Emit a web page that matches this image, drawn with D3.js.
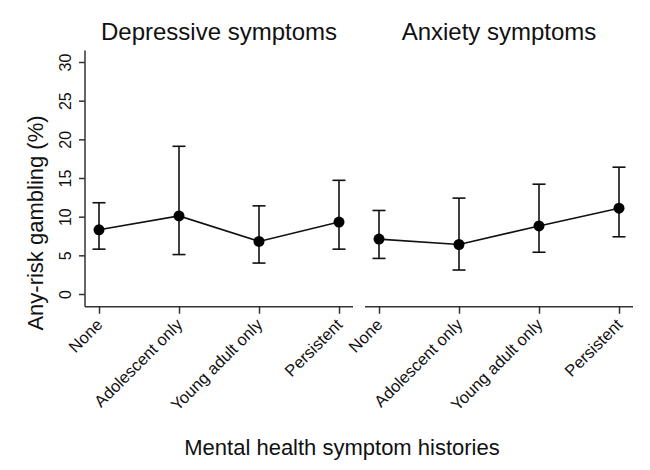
<!DOCTYPE html>
<html>
<head>
<meta charset="utf-8">
<script src="https://cdn.jsdelivr.net/npm/d3@7"></script>
<style>
  html, body { margin: 0; padding: 0; background: #fff; }
  svg { display: block; font-family: "Liberation Sans", Arial, sans-serif; }
</style>
</head>
<body>
<svg id="chart" width="650" height="470"></svg>
<script>
// ---- data ----
const categories = ["None", "Adolescent only", "Young adult only", "Persistent"];
const panelTitles = ["Depressive symptoms", "Anxiety symptoms"];
const depEstimate = [8.3, 10.1, 6.8, 9.3];
const depLower    = [5.8, 5.1, 4.0, 5.8];
const depUpper    = [11.8, 19.1, 11.4, 14.7];
const anxEstimate = [7.1, 6.4, 8.8, 11.1];
const anxLower    = [4.6, 3.1, 5.4, 7.4];
const anxUpper    = [10.8, 12.4, 14.2, 16.4];
const yTicks = [0, 5, 10, 15, 20, 25, 30];
const yLabel = "Any-risk gambling (%)";
const xLabel = "Mental health symptom histories";

const panels = [
  { title: panelTitles[0], est: depEstimate, lo: depLower, hi: depUpper, x0: 85, x1: 353, yAxis: true },
  { title: panelTitles[1], est: anxEstimate, lo: anxLower, hi: anxUpper, x0: 365, x1: 633, yAxis: false }
];

const svg = d3.select("#chart");
const y = d3.scaleLinear().domain([0, 30]).range([294, 62]);
const yMin = -1.65, yMax = 31.5;
const ink = "#111";

panels.forEach(p => {
  const x = d3.scalePoint().domain(categories).range([p.x0, p.x1]).padding(0.175);
  const g = svg.append("g");

  // title
  g.append("text")
    .attr("x", (p.x0 + p.x1) / 2).attr("y", 40)
    .attr("text-anchor", "middle")
    .attr("font-size", 24).attr("fill", ink)
    .text(p.title);

  // x axis
  const xAxis = d3.axisBottom(x).tickSize(7).tickSizeOuter(0).tickFormat("");
  const xg = g.append("g").attr("transform", `translate(0,${y(yMin)})`).call(xAxis);
  xg.select(".domain").attr("stroke", "#333").attr("stroke-width", 1.5)
    .attr("d", `M${p.x0},0H${p.x1}`);
  xg.selectAll(".tick line").attr("stroke", "#333").attr("stroke-width", 1.5);
  xg.selectAll(".tick").append("text")
    .attr("transform", "translate(4,19) rotate(-45)")
    .attr("text-anchor", "end")
    .attr("font-size", 16.5).attr("fill", ink)
    .text(d => d);

  // y axis
  if (p.yAxis) {
    const yAxis = d3.axisLeft(y).tickValues(yTicks).tickSize(6).tickSizeOuter(0).tickFormat(d3.format("d"));
    const yg = g.append("g").attr("transform", `translate(${p.x0},0)`).call(yAxis);
    yg.select(".domain").attr("stroke", "#333").attr("stroke-width", 1.5)
      .attr("d", `M0,${y(yMax)}V${y(yMin)}`);
    yg.selectAll(".tick line").attr("stroke", "#333").attr("stroke-width", 1.5);
    yg.selectAll(".tick text")
      .attr("x", null).attr("dy", null)
      .attr("transform", "translate(-14,0) rotate(-90)")
      .attr("text-anchor", "middle")
      .attr("font-size", 16).attr("fill", ink)
      .attr("font-family", '"Liberation Sans", Arial, sans-serif');
  }

  const idx = d3.range(categories.length);
  // error bars
  const eb = g.append("g").attr("stroke", ink).attr("stroke-width", 1.6).attr("fill", "none");
  idx.forEach(i => {
    const cx = x(categories[i]);
    eb.append("line").attr("x1", cx).attr("x2", cx).attr("y1", y(p.lo[i])).attr("y2", y(p.hi[i]));
    eb.append("line").attr("x1", cx - 6.5).attr("x2", cx + 6.5).attr("y1", y(p.lo[i])).attr("y2", y(p.lo[i]));
    eb.append("line").attr("x1", cx - 6.5).attr("x2", cx + 6.5).attr("y1", y(p.hi[i])).attr("y2", y(p.hi[i]));
  });

  // connecting line
  const line = d3.line().x(i => x(categories[i])).y(i => y(p.est[i]));
  g.append("path").attr("d", line(idx)).attr("fill", "none").attr("stroke", ink).attr("stroke-width", 1.6);

  // markers
  g.selectAll("circle.pt").data(idx).enter().append("circle")
    .attr("class", "pt")
    .attr("cx", i => x(categories[i])).attr("cy", i => y(p.est[i]))
    .attr("r", 5.5).attr("fill", "#000");
});

// y label
svg.append("text")
  .attr("transform", `translate(43,223) rotate(-90)`)
  .attr("text-anchor", "middle")
  .attr("font-size", 22).attr("fill", ink)
  .text(yLabel);

// x label
svg.append("text")
  .attr("x", 342).attr("y", 455)
  .attr("text-anchor", "middle")
  .attr("font-size", 22).attr("fill", ink)
  .text(xLabel);
</script>
</body>
</html>
